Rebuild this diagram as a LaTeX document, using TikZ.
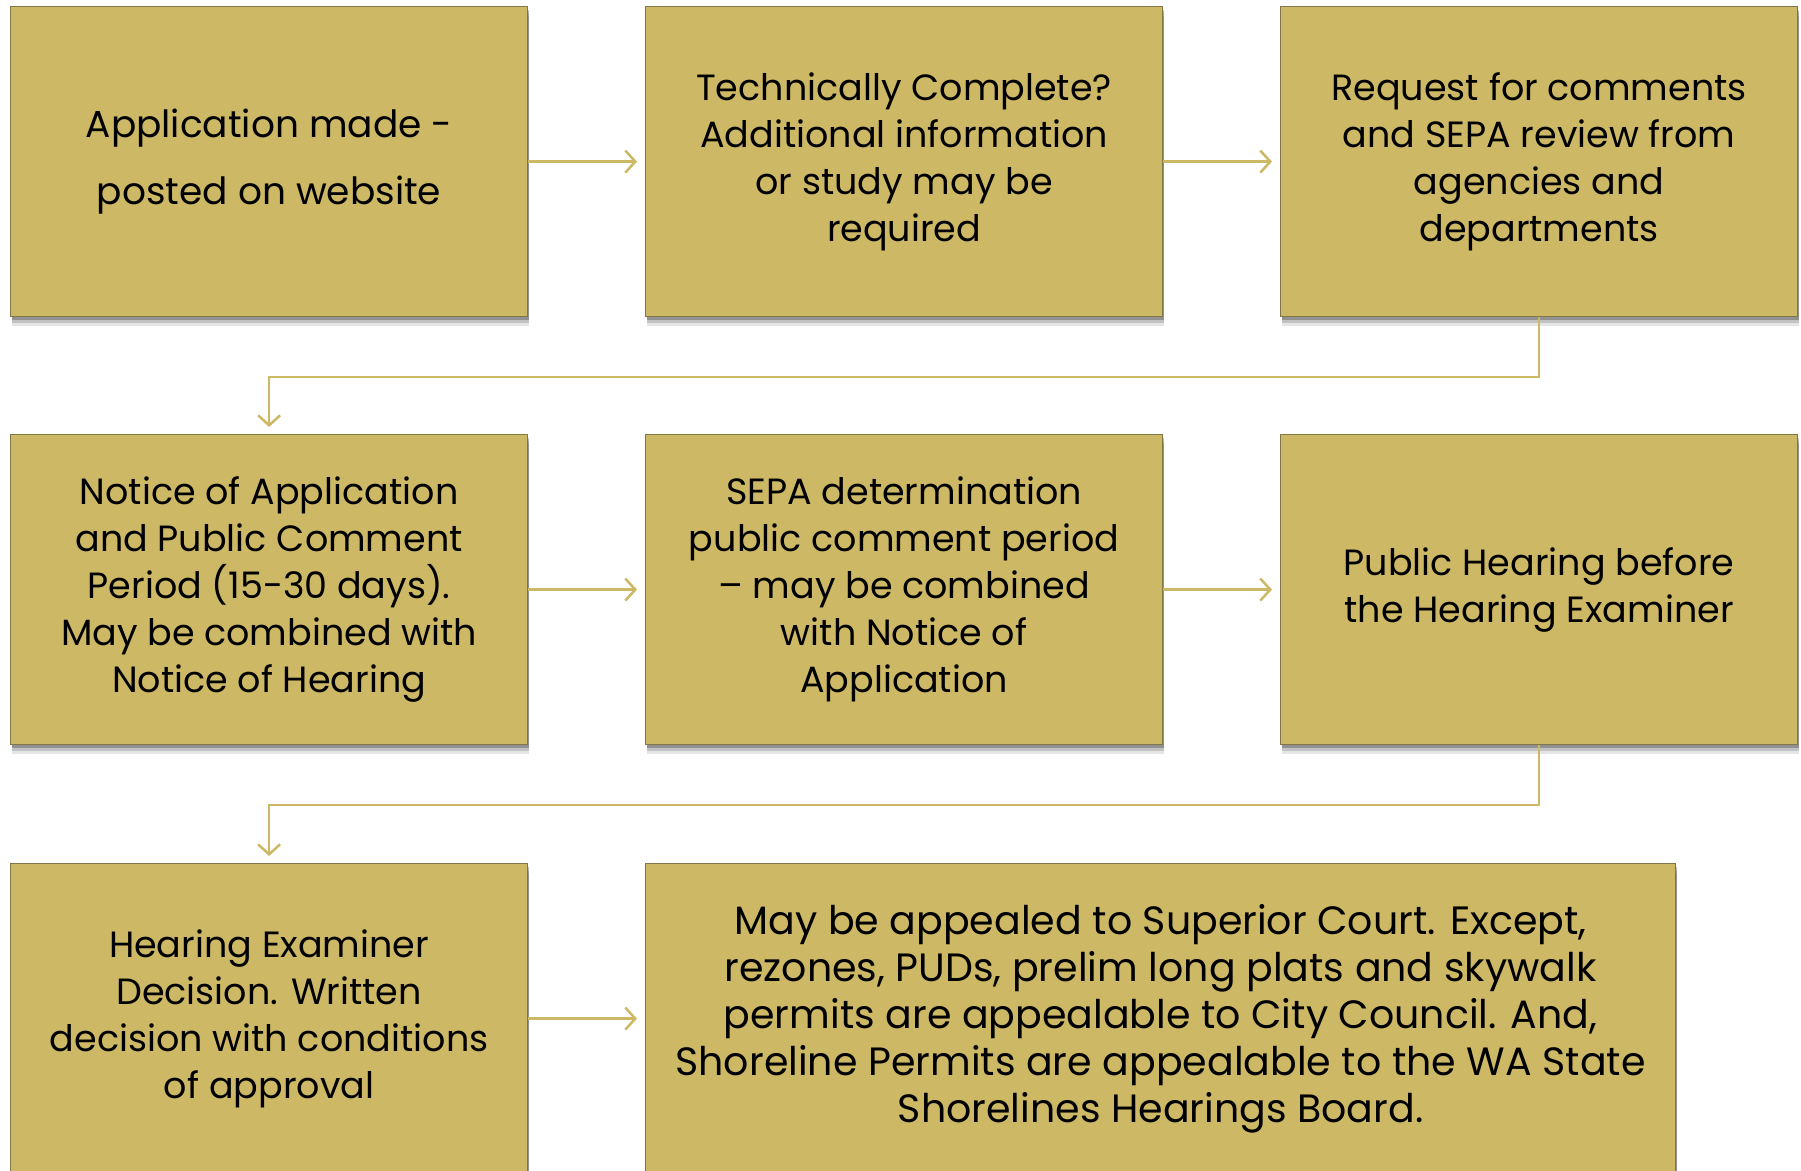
\documentclass[tikz,border=0pt]{standalone}
\usepackage{fontspec}
\setmainfont{Poppins}
\usetikzlibrary{arrows.meta,shadows}
\definecolor{gold}{HTML}{CDB866}
\definecolor{edgec}{HTML}{80764A}
\begin{document}
\begin{tikzpicture}[x=1pt,y=-1pt,
  box/.style={draw=edgec, line width=1.2pt, fill=gold, minimum width=517pt, minimum height=310pt,
    anchor=north west, align=center, inner sep=0pt, text=black,
    font=\fontsize{36.5}{47}\selectfont,
    execute at begin node={\rule{0pt}{44pt}},
    drop shadow={shadow xshift=1pt, shadow yshift=-9pt, opacity=0.10, fill=black},
    drop shadow={shadow xshift=1pt, shadow yshift=-6pt, opacity=0.15, fill=black},
    drop shadow={shadow xshift=1pt, shadow yshift=-3pt, opacity=0.25, fill=black}},
  link/.style={draw=gold, line width=2.5pt, -{Straight Barb[length=10pt,width=22pt,line width=2.5pt]}}]
\clip (0,0) rectangle (1801,1170);
\fill[white] (0,0) rectangle (1801,1170);
\node[box, font=\fontsize{37.5}{67}\selectfont] (b1) at (10,6) {Application made -\\posted on website};
\node[box] (b2) at (645,6) {Technically Complete?\\Additional information\\or study may be\\required};
\node[box] (b3) at (1280,6) {Request for comments\\and SEPA review from\\agencies and\\departments};
\node[box] (b4) at (10,434) {Notice of Application\\and Public Comment\\Period (15-30 days).\\May be combined with\\Notice of Hearing};
\node[box] (b5) at (645,434) {SEPA determination\\public comment period\\– may be combined\\with Notice of\\Application};
\node[box] (b6) at (1280,434) {Public Hearing before\\the Hearing Examiner};
\node[box] (b7) at (10,863) {Hearing Examiner\\Decision. Written\\decision with conditions\\of approval};
\node[box, minimum width=1030pt, font=\fontsize{39.5}{47}\selectfont] (b8) at (645,863) {May be appealed to Superior Court. Except,\\rezones, PUDs, prelim long plats and skywalk\\permits are appealable to City Council. And,\\Shoreline Permits are appealable to the WA State\\Shorelines Hearings Board.};
\draw[link] (b1.east) -- ([xshift=-8pt]b2.west);
\draw[link] (b2.east) -- ([xshift=-8pt]b3.west);
\draw[link] (b4.east) -- ([xshift=-8pt]b5.west);
\draw[link] (b5.east) -- ([xshift=-8pt]b6.west);
\draw[link] (b7.east) -- ([xshift=-8pt]b8.west);
\draw[link] (b3.south) -- ++(0,60) -| ([yshift=7pt]b4.north);
\draw[link] (b6.south) -- ++(0,60) -| ([yshift=7pt]b7.north);
\end{tikzpicture}
\end{document}
